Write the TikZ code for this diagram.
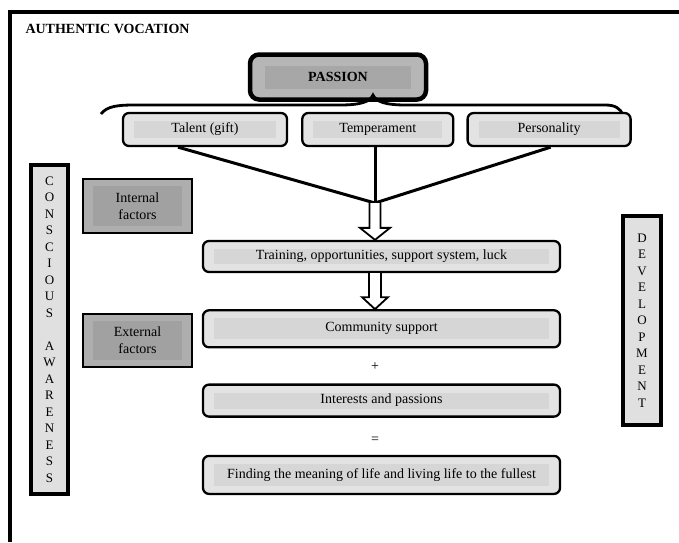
\documentclass[tikz,border=0pt]{standalone}
\usepackage{fontspec}
\setmainfont{Liberation Serif}
\usepackage{xcolor}
\usetikzlibrary{positioning, calc}

\definecolor{boxgray}{HTML}{E3E3E3}
\definecolor{boxband}{HTML}{D6D6D6}
\definecolor{passgray}{HTML}{B6B6B6}
\definecolor{passband}{HTML}{A7A7A7}
\definecolor{factgray}{HTML}{AEAEAE}
\definecolor{factband}{HTML}{A1A1A1}
\definecolor{vertgray}{HTML}{E0E0E0}

\newcommand{\hollowarrow}[4]{%
  \draw[line width=1.8pt, fill=white, line join=miter]
    ($(#1)+(-#3,0)$) -- ($(#2)+(-#3,-12)$) -- ($(#2)+(-#4,-12)$) -- (#2)
    -- ($(#2)+(#4,-12)$) -- ($(#2)+(#3,-12)$) -- ($(#1)+(#3,0)$);}

\begin{document}
\begin{tikzpicture}[x=1pt, y=-1pt,
    band/.style n args={3}{path picture={\fill[#1, sharp corners]
        ([shift={(#2,-#3)}]path picture bounding box.north west) rectangle
        ([shift={(-#2,#3)}]path picture bounding box.south east);}},
    box/.style={draw, line width=2.3pt, rounded corners=6pt, fill=boxgray,
        inner sep=0pt, minimum height=33pt, font=\fontsize{14}{17}\selectfont,
        band={boxband}{11pt}{8pt}},
    wide/.style={minimum width=357pt, minimum height=31pt},
    passion/.style={draw, line width=4.5pt, rounded corners=9pt, fill=passgray,
        inner sep=0pt, font=\bfseries\fontsize{14}{17}\selectfont,
        band={passband}{15pt}{11pt}},
    fact/.style={draw, line width=2.3pt, fill=factgray, inner sep=0pt,
        align=center, font=\fontsize{14}{17}\selectfont,
        band={factband}{10pt}{7pt}},
    vert/.style={draw, line width=3.3pt, fill=vertgray, inner sep=0pt,
        align=center, font=\fontsize{13}{16.5}\selectfont},
    link/.style={line width=3pt},
    sign/.style={font=\fontsize{14}{17}\selectfont}]
    \useasboundingbox (0,0) rectangle (679,542);
    %frame
    \draw[line width=4.5pt] (10,542) -- (10,12) -- (679,12);
    \node[anchor=west, font=\bfseries\fontsize{14}{17}\selectfont] (title) at (22,29) {AUTHENTIC VOCATION};

    \node[passion, minimum width=176pt, minimum height=45pt] (passion) at (338,77) {PASSION};
    \draw[line width=2.8pt] (101,114) .. controls (107,106) and (118,105) .. (135,105) -- (340,105)
        .. controls (360,105) and (370,102) .. (373,95)
        .. controls (376,102) and (386,105) .. (406,105) -- (605,105)
        .. controls (615,105) and (620,108) .. (623,115);

    \node[box, minimum width=164pt] (talent) at (205,129.5) {Talent (gift)};
    \node[box, minimum width=151pt, right=13pt of talent] (temper) {Temperament};
    \node[box, minimum width=163pt, right=12pt of temper] (person) {Personality};

    \node[fact, minimum width=109pt, minimum height=54pt] (internal) at (137.5,206) {Internal\\factors};
    \node[fact, minimum width=109pt, minimum height=53pt] (external) at (137.5,340.5) {External\\factors};

    \node[vert, minimum width=37pt, minimum height=329pt] (aware) at (49.5,329.5)
        {C\\O\\N\\S\\C\\I\\O\\U\\S\\[16.5pt]A\\W\\A\\R\\E\\N\\E\\S\\S};
    \node[vert, minimum width=38pt, minimum height=209pt] (develop) at (642,320.5)
        {D\\E\\V\\E\\L\\O\\P\\M\\E\\N\\T};

    \node[box, wide] (train) at (381.5,256.5) {Training, opportunities, support system, luck};
    \node[box, wide, minimum height=37pt, below=36pt of train] (comm) {Community support};
    \node[sign] (plus) at (375,367) {+};
    \node[box, wide, minimum height=32pt, below=35pt of comm] (interest) {Interests and passions};
    \node[sign] (equal) at (375,440) {=};
    \node[box, wide, minimum height=38pt, below=37pt of interest] (finding) {Finding the meaning of life and living life to the fullest};

    \coordinate (meet) at (375,203);
    \draw[link] ([xshift=-27pt]talent.south) -- (meet);
    \draw[link] (temper.south -| meet) -- (meet);
    \draw[link] ([xshift=1.5pt]person.south) -- (meet);

    \coordinate (tip1) at (meet |- train.north);
    \coordinate (tail2) at (meet |- train.south);
    \coordinate (tip2) at (meet |- comm.north);
    \hollowarrow{meet}{tip1}{5.5}{15}
    \hollowarrow{tail2}{tip2}{6}{13}
\end{tikzpicture}
\end{document}
